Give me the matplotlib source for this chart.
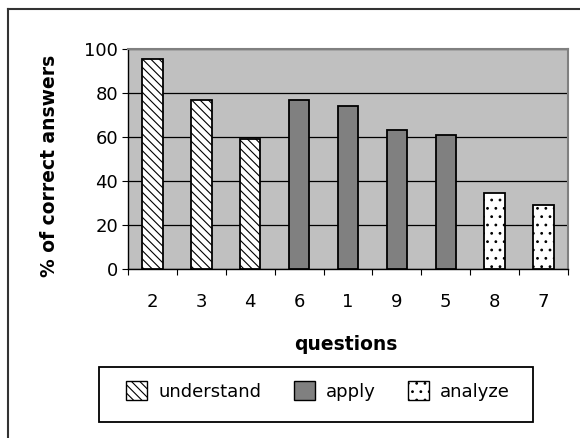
import matplotlib
matplotlib.use("Agg")
import matplotlib.pyplot as plt
from matplotlib.lines import Line2D
from matplotlib.patches import Patch, Rectangle

# Data
questions = ["2", "3", "4", "6", "1", "9", "5", "8", "7"]
levels = ["understand", "understand", "understand",
          "apply", "apply", "apply", "apply",
          "analyze", "analyze"]
correct = [95.5, 77, 59, 77, 74, 63, 61, 34.5, 29]
y_ticks = [0, 20, 40, 60, 80, 100]

# Bar look for each level
styles = {
    "understand": dict(facecolor="white", hatch="\\\\\\\\"),
    "apply": dict(facecolor="#808080", hatch=None),
    "analyze": dict(facecolor="white", hatch=".."),
}

plt.rcParams["font.family"] = ["DejaVu Sans"]
plt.rcParams["hatch.linewidth"] = 0.8
plt.rcParams["hatch.color"] = "black"

fig = plt.figure(figsize=(5.8, 4.38), dpi=100)
ax = fig.add_axes([128 / 580, 1 - 269 / 438, 440 / 580, 220 / 438])
ax.set_facecolor("#C0C0C0")

x = list(range(len(questions)))
for i in x:
    st = styles[levels[i]]
    ax.bar(i, correct[i], width=0.42, facecolor=st["facecolor"], hatch=st["hatch"],
           edgecolor="black", linewidth=1.3, zorder=3)

ax.set_xlim(-0.5, len(questions) - 0.5)
ax.set_ylim(0, 100)
ax.set_yticks(y_ticks)
ax.set_xticks(x)
ax.set_xticklabels(questions)
ax.set_xticks([i - 0.5 for i in range(len(questions) + 1)], minor=True)

# Horizontal gridlines
ax.set_axisbelow(True)
ax.yaxis.grid(True, color="black", linewidth=0.9)

for side in ["top", "right"]:
    ax.spines[side].set_color("#808080")
    ax.spines[side].set_linewidth(1.5)
for side in ["left", "bottom"]:
    ax.spines[side].set_color("black")
    ax.spines[side].set_linewidth(1.0)

ax.tick_params(axis="y", direction="out", length=4.5, width=0.8, pad=2.5, labelsize=13)
ax.tick_params(axis="x", which="major", length=0, pad=17, labelsize=13)
ax.tick_params(axis="x", which="minor", direction="out", length=4, width=0.8)

fig.text(50 / 580, 1 - 166 / 438, "% of correct answers", rotation=90,
         ha="center", va="center", fontsize=13.5, fontweight="bold")
fig.text(346 / 580, 1 - 345 / 438, "questions", ha="center", va="center",
         fontsize=13.5, fontweight="bold")

# Legend
handles = []
for name in ["understand", "apply", "analyze"]:
    st = styles[name]
    handles.append(Patch(facecolor=st["facecolor"], hatch=st["hatch"],
                         edgecolor="black", linewidth=1.0, label=name))
ax.legend(handles=handles, ncol=3, loc="center", frameon=False, fontsize=13,
          bbox_to_anchor=(318 / 580, 1 - 391 / 438), bbox_transform=fig.transFigure,
          handlelength=1.17, handleheight=1.17, handletextpad=0.6,
          columnspacing=1.8, borderpad=0, borderaxespad=0)
fig.add_artist(Rectangle((99 / 580, 16 / 438), 434 / 580, 55 / 438,
                         transform=fig.transFigure, fill=False,
                         edgecolor="black", linewidth=1.3))

# Outer chart border (left and top edges)
fig.add_artist(Line2D([8 / 580, 8 / 580], [0, 1 - 9 / 438], transform=fig.transFigure,
                      color="#333333", linewidth=1.5))
fig.add_artist(Line2D([8 / 580, 1], [1 - 9 / 438, 1 - 9 / 438], transform=fig.transFigure,
                      color="#333333", linewidth=1.5))

fig.savefig("out.png", dpi=100)
